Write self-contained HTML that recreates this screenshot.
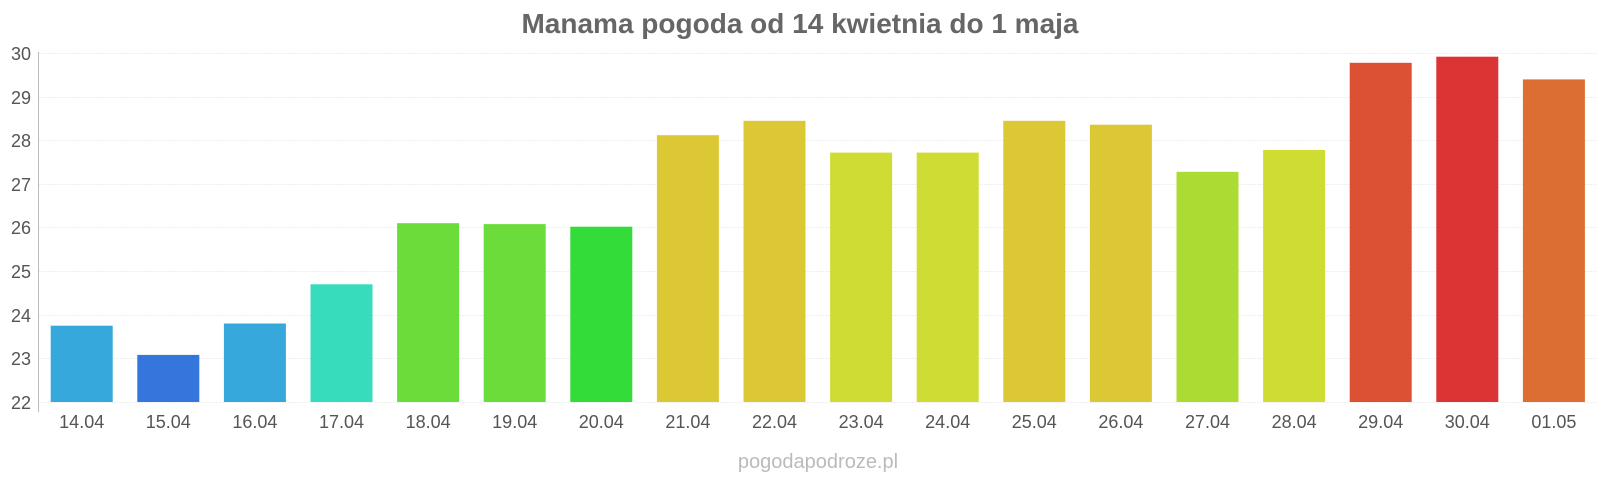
<!DOCTYPE html>
<html><head><meta charset="utf-8"><style>
html,body{margin:0;padding:0;background:#fff;}
svg{display:block;font-family:"Liberation Sans",sans-serif;}
</style></head><body>
<svg width="1600" height="480" viewBox="0 0 1600 480" xmlns="http://www.w3.org/2000/svg">
<text x="800" y="33" text-anchor="middle" font-size="28" font-weight="bold" fill="#666">Manama pogoda od 14 kwietnia do 1 maja</text>
<g stroke="#eee" stroke-width="1" stroke-dasharray="2,1">
<line x1="39" x2="1597" y1="53.5" y2="53.5"/><line x1="39" x2="1597" y1="97.5" y2="97.5"/>
<line x1="39" x2="1597" y1="140.5" y2="140.5"/><line x1="39" x2="1597" y1="184.5" y2="184.5"/>
<line x1="39" x2="1597" y1="227.5" y2="227.5"/><line x1="39" x2="1597" y1="271.5" y2="271.5"/>
<line x1="39" x2="1597" y1="315.5" y2="315.5"/><line x1="39" x2="1597" y1="358.5" y2="358.5"/>
<line x1="39" x2="1597" y1="402.5" y2="402.5"/>
</g>
<line x1="38.5" x2="38.5" y1="52" y2="412" stroke="#bbb" stroke-width="1"/>
<g font-size="18" fill="#555" text-anchor="end">
<text x="31" y="60">30</text><text x="31" y="104">29</text><text x="31" y="147">28</text>
<text x="31" y="191">27</text><text x="31" y="234">26</text><text x="31" y="278">25</text>
<text x="31" y="322">24</text><text x="31" y="365">23</text><text x="31" y="409">22</text>
</g>
<g>
<rect x="50.7" y="325.7" width="62" height="76.3" fill="#36a8dc"/>
<rect x="137.3" y="354.9" width="62" height="47.1" fill="#3476dc"/>
<rect x="223.9" y="323.5" width="62" height="78.5" fill="#36a8dc"/>
<rect x="310.5" y="284.3" width="62" height="117.7" fill="#36dcbc"/>
<rect x="397.1" y="223.2" width="62" height="178.8" fill="#6cdc3a"/>
<rect x="483.7" y="224.1" width="62" height="177.9" fill="#6cdc3a"/>
<rect x="570.3" y="226.7" width="62" height="175.3" fill="#34dc3a"/>
<rect x="656.9" y="135.2" width="62" height="266.8" fill="#dcc834"/>
<rect x="743.5" y="120.8" width="62" height="281.2" fill="#dcc834"/>
<rect x="830.1" y="152.6" width="62" height="249.4" fill="#cfdc34"/>
<rect x="916.7" y="152.6" width="62" height="249.4" fill="#cfdc34"/>
<rect x="1003.3" y="120.8" width="62" height="281.2" fill="#dcc834"/>
<rect x="1089.9" y="124.7" width="62" height="277.3" fill="#dcc834"/>
<rect x="1176.5" y="171.8" width="62" height="230.2" fill="#acdc34"/>
<rect x="1263.1" y="150" width="62" height="252" fill="#cfdc34"/>
<rect x="1349.7" y="62.8" width="62" height="339.2" fill="#dc5034"/>
<rect x="1436.3" y="56.7" width="62" height="345.3" fill="#dc3434"/>
<rect x="1522.9" y="79.4" width="62" height="322.6" fill="#dc6e34"/>
</g>
<g font-size="18" fill="#555" text-anchor="middle">
<text x="81.7" y="428">14.04</text><text x="168.3" y="428">15.04</text><text x="254.9" y="428">16.04</text>
<text x="341.5" y="428">17.04</text><text x="428.1" y="428">18.04</text><text x="514.7" y="428">19.04</text>
<text x="601.3" y="428">20.04</text><text x="687.9" y="428">21.04</text><text x="774.5" y="428">22.04</text>
<text x="861.1" y="428">23.04</text><text x="947.7" y="428">24.04</text><text x="1034.3" y="428">25.04</text>
<text x="1120.9" y="428">26.04</text><text x="1207.5" y="428">27.04</text><text x="1294.1" y="428">28.04</text>
<text x="1380.7" y="428">29.04</text><text x="1467.3" y="428">30.04</text><text x="1553.9" y="428">01.05</text>
</g>
<text x="818" y="468" text-anchor="middle" font-size="20" fill="#bbb">pogodapodroze.pl</text>
</svg>
</body></html>
